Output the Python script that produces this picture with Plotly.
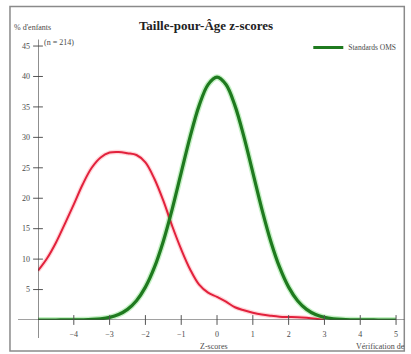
import plotly.graph_objects as go

# ---- data ----
who_z = [-5, -4.75, -4.5, -4.25, -4, -3.75, -3.5, -3.25, -3, -2.75, -2.5, -2.25, -2,
         -1.75, -1.5, -1.25, -1, -0.75, -0.5, -0.25, 0, 0.25, 0.5, 0.75, 1, 1.25, 1.5,
         1.75, 2, 2.25, 2.5, 2.75, 3, 3.25, 3.5, 3.75, 4, 4.25, 4.5, 4.75, 5]
who_pct = [0.00, 0.00, 0.00, 0.01, 0.01, 0.04, 0.09, 0.20, 0.44, 0.91, 1.75, 3.17, 5.40,
           8.63, 12.95, 18.26, 24.20, 30.11, 35.21, 38.67, 39.89, 38.67, 35.21, 30.11, 24.20,
           18.26, 12.95, 8.63, 5.40, 3.17, 1.75, 0.91, 0.44, 0.20, 0.09, 0.04, 0.01, 0.01,
           0.00, 0.00, 0.00]

kids_z = [-5, -4.75, -4.5, -4.25, -4, -3.75, -3.5, -3.25, -3, -2.75, -2.5, -2.25, -2,
          -1.75, -1.5, -1.25, -1, -0.75, -0.5, -0.25, 0, 0.25, 0.5, 0.75, 1, 1.25, 1.5,
          1.75, 2, 2.25, 2.5, 2.75, 3]
kids_pct = [8.1, 10.1, 12.7, 15.8, 19.0, 22.3, 25.0, 26.7, 27.5, 27.6, 27.4, 27.1, 25.9,
            23.2, 19.6, 15.4, 11.6, 8.3, 5.8, 4.5, 3.8, 3.0, 2.1, 1.6, 1.2, 0.9, 0.7,
            0.55, 0.5, 0.45, 0.35, 0.2, 0.0]

x_ticks = [-4, -3, -2, -1, 0, 1, 2, 3, 4, 5]
y_ticks = [5, 10, 15, 20, 25, 30, 35, 40, 45]

title_text = "Taille-pour-Âge z-scores"
legend_text = "Standards OMS"
y_label = "% d'enfants"
n_label = "(n = 214)"
x_label = "Z-scores"
footer = "Vérification de"

# ---- layout geometry (pixels) ----
W, H = 411, 354
L, R, T, B = 38, 404.7, 42.5, 320


def px2x(px):
    return (px - L) / (R - L)


def py2y(py):
    return (B - py) / (B - T)


FONT = "Liberation Serif"
TXT = "#4a4a4a"

fig = go.Figure()

# halos
fig.add_trace(go.Scatter(x=kids_z, y=kids_pct, mode="lines", showlegend=False,
                         hoverinfo="skip",
                         line=dict(color="rgba(255,140,150,0.35)", width=4.5,
                                   shape="spline", smoothing=1)))
fig.add_trace(go.Scatter(x=who_z, y=who_pct, mode="lines", showlegend=False,
                         hoverinfo="skip",
                         line=dict(color="rgba(110,220,110,0.4)", width=6,
                                   shape="spline", smoothing=1)))
# main lines
fig.add_trace(go.Scatter(x=kids_z, y=kids_pct, mode="lines", name="Enfants",
                         showlegend=False,
                         line=dict(color="#e2213c", width=2, shape="spline", smoothing=1)))
fig.add_trace(go.Scatter(x=who_z, y=who_pct, mode="lines", name=legend_text,
                         line=dict(color="#1f7a1f", width=3.2, shape="spline", smoothing=1)))

# crossing tick marks
fig.add_trace(go.Scatter(x=[-5] * len(y_ticks), y=y_ticks, mode="markers",
                         showlegend=False, hoverinfo="skip", cliponaxis=False,
                         marker=dict(symbol="line-ew", size=7,
                                     line=dict(color="#555555", width=1))))
fig.add_trace(go.Scatter(x=x_ticks, y=[0] * len(x_ticks), mode="markers",
                         showlegend=False, hoverinfo="skip", cliponaxis=False,
                         marker=dict(symbol="line-ns", size=7,
                                     line=dict(color="#555555", width=1))))

fig.update_layout(
    width=W, height=H,
    margin=dict(l=L, r=W - R, t=T, b=H - B),
    paper_bgcolor="white", plot_bgcolor="white",
    font=dict(family=FONT, size=8, color=TXT),
    title=dict(text="<b>" + title_text + "</b>", x=206 / W, y=1 - 25 / H,
               xanchor="center", yanchor="middle",
               font=dict(family=FONT, size=13, color="#222222")),
    showlegend=True,
    legend=dict(x=px2x(401), y=py2y(47), xanchor="right", yanchor="middle",
                bgcolor="rgba(0,0,0,0)", font=dict(family=FONT, size=7.5, color=TXT),
                itemwidth=30, tracegroupgap=0),
    xaxis=dict(range=[-5, 5.25], tickmode="array", tickvals=x_ticks,
               ticks="", showgrid=False, zeroline=False, showline=False,
               ticklabelstandoff=8, tickfont=dict(size=8, color=TXT, family=FONT),
               fixedrange=True),
    yaxis=dict(range=[0, 45.5], tickmode="array", tickvals=y_ticks,
               ticks="", showgrid=False, zeroline=False, showline=False,
               ticklabelstandoff=7, tickfont=dict(size=8, color=TXT, family=FONT),
               fixedrange=True),
)

# axis lines (extended beyond the origin like the reference)
fig.add_shape(type="line", xref="x", yref="paper", x0=-5, x1=-5,
              y0=py2y(338), y1=py2y(39), line=dict(color="#444444", width=1.2))
fig.add_shape(type="line", xref="paper", yref="y", x0=px2x(18), x1=px2x(404),
              y0=0, y1=0, line=dict(color="#444444", width=1.2))

# outer frame
fig.add_shape(type="rect", xref="paper", yref="paper",
              x0=px2x(10), x1=px2x(404), y0=py2y(351), y1=py2y(6),
              line=dict(color="#8a8a8a", width=1.5), layer="below")

ann = dict(xref="paper", yref="paper", showarrow=False,
           font=dict(family=FONT, size=8, color=TXT))
fig.add_annotation(text=y_label, x=px2x(12), y=py2y(27), xanchor="left",
                   yanchor="middle", **ann)
fig.add_annotation(text=n_label, x=px2x(42), y=py2y(42), xanchor="left",
                   yanchor="middle", **ann)
fig.add_annotation(text=x_label, x=px2x(214), y=py2y(347), xanchor="center",
                   yanchor="middle", **ann)
fig.add_annotation(text=footer, x=px2x(354), y=py2y(347), xanchor="left",
                   yanchor="middle", **ann)

fig.write_html("out.html")
